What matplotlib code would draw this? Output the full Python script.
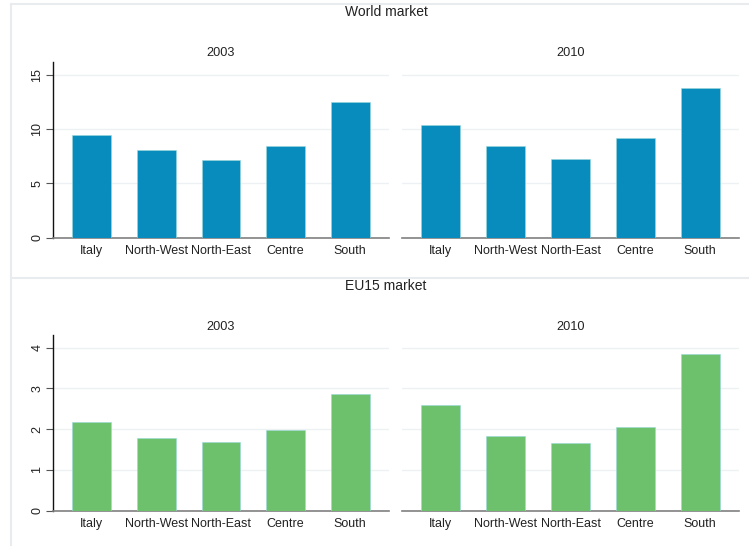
import numpy as np
import matplotlib.pyplot as plt
from matplotlib.lines import Line2D

plt.rcParams['font.family'] = ['Liberation Sans', 'DejaVu Sans']

regions = ["Italy", "North-West", "North-East", "Centre", "South"]
world_2003 = [9.5, 8.1, 7.15, 8.45, 12.5]
world_2010 = [10.4, 8.45, 7.3, 9.2, 13.8]
eu15_2003 = [2.17, 1.79, 1.69, 1.99, 2.85]
eu15_2010 = [2.6, 1.82, 1.66, 2.05, 3.84]

blue = "#088bbd"
green = "#6dc16c"
grid_c = "#edf1f4"

W, H = 749, 546
fig = plt.figure(figsize=(W / 100, H / 100), dpi=100)

def box(x0, y0, x1, y1):
    # pixel coords from top-left -> figure fraction
    return [x0 / W, 1 - y1 / H, (x1 - x0) / W, (y1 - y0) / H]

def panel(rect, vals, color, ymax, yticks, left_axis, title):
    ax = fig.add_axes(rect)
    x = np.arange(len(regions))
    ax.bar(x, vals, width=0.6, color=color, edgecolor="#9ad8dc", linewidth=0.4, zorder=3)
    ax.set_xlim(-0.6, 4.6)
    ax.set_ylim(0, ymax)
    ax.set_yticks(yticks)
    ax.yaxis.grid(True, color=grid_c, linewidth=1, zorder=0)
    ax.set_xticks(x)
    ax.set_xticklabels(regions, fontsize=9, color="#222222")
    ax.tick_params(axis="x", length=0, pad=5)
    for s in ["top", "right"]:
        ax.spines[s].set_visible(False)
    ax.spines["bottom"].set_color("#808080")
    ax.spines["bottom"].set_linewidth(1.2)
    if left_axis:
        ax.spines["left"].set_color("#111111")
        ax.spines["left"].set_linewidth(1)
        ax.tick_params(axis="y", length=5, width=0.8, color="#555555", labelsize=9,
                       labelcolor="#222222", pad=2)
        for lab in ax.get_yticklabels():
            lab.set_rotation(90)
            lab.set_va("center")
    else:
        ax.spines["left"].set_visible(False)
        ax.tick_params(axis="y", length=0, labelleft=False)
    ax.set_title(title, fontsize=9.2, color="#222222", pad=4)
    return ax

panel(box(53, 62, 389, 237.7), world_2003, blue, 16.2, [0, 5, 10, 15], True, "2003")
panel(box(402, 62, 739, 237.7), world_2010, blue, 16.2, [0, 5, 10, 15], False, "2010")
panel(box(53, 335.3, 389, 510.7), eu15_2003, green, 4.3, [0, 1, 2, 3, 4], True, "2003")
panel(box(402, 335.3, 739, 510.7), eu15_2010, green, 4.3, [0, 1, 2, 3, 4], False, "2010")

fig.text(386 / W, 1 - 12 / H, "World market", ha="center", va="center", fontsize=10, color="#222222")
fig.text(386 / W, 1 - 285.7 / H, "EU15 market", ha="center", va="center", fontsize=10, color="#222222")

# faint frames around the two groups
frame_c = "#e8ecef"
for xs, ys in [([11, W], [4, 4]), ([11, 11], [4, H]), ([11, W], [277.7, 277.7])]:
    fig.add_artist(Line2D([v / W for v in xs], [1 - v / H for v in ys], color=frame_c, linewidth=1.5))

fig.savefig("out.png", dpi=100)
